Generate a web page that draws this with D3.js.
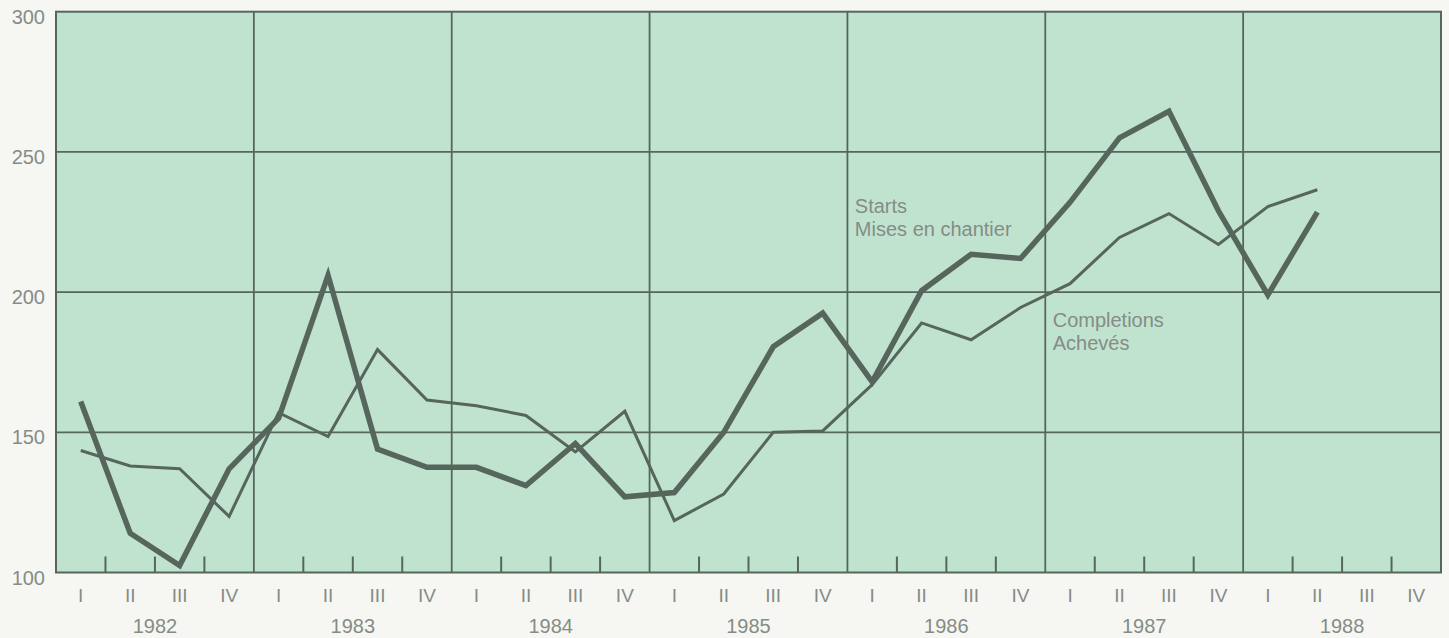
<!DOCTYPE html>
<html>
<head>
<meta charset="utf-8">
<script src="https://cdn.jsdelivr.net/npm/d3@7"></script>
<style>
  html, body { margin: 0; padding: 0; background: #f6f7f3; }
  svg { display: block; }
  text { font-family: "Liberation Sans", Arial, Helvetica, sans-serif; fill: #858c86; }
</style>
</head>
<body>
<svg id="chart" width="1449" height="638"></svg>
<script>
// ---- data ----
const years = ["1982", "1983", "1984", "1985", "1986", "1987", "1988"];
const quarterLabels = ["I", "II", "III", "IV"];
const yTicks = [100, 150, 200, 250, 300];
// Housing starts (thick line), thousands of units, quarterly 1982 Q1 – 1988 Q2
const starts = [161, 114, 102.5, 137,
                155, 206, 144, 137.5,
                137.5, 131, 146, 127,
                128.5, 150, 180.5, 192.5,
                168, 200.5, 213.5, 212,
                232, 255, 264.5, 229,
                199, 228.5];
// Completions (thin line)
const completions = [143.5, 138, 137, 120,
                     157, 148.5, 179.5, 161.5,
                     159.5, 156, 143, 157.5,
                     118.5, 128, 150, 150.5,
                     167, 189, 183, 194.5,
                     203, 219.5, 228, 217,
                     230.5, 236.5];
const seriesLabels = [
  { lines: ["Starts", "Mises en chantier"], q: 16.15, v: 228.2 },
  { lines: ["Completions", "Achevés"], q: 20.15, v: 187.7 }
];

(function () {
// ---- layout ----
const svg = d3.select("#chart");
const pLeft = 56, pRight = 1441, pTop = 11.7, pBottom = 572.5;
const nQ = years.length * 4;
const x = d3.scaleLinear().domain([0, nQ]).range([pLeft, pRight]);
const y = d3.scaleLinear().domain([100, 300]).range([pBottom, pTop]);
const ink = "#56665c";

// plot background
svg.append("rect")
  .attr("x", pLeft).attr("y", pTop)
  .attr("width", pRight - pLeft).attr("height", pBottom - pTop)
  .attr("fill", "#c0e3d0");

// horizontal gridlines
svg.append("g").selectAll("line")
  .data(yTicks.slice(1, -1))
  .join("line")
  .attr("x1", pLeft).attr("x2", pRight)
  .attr("y1", d => y(d)).attr("y2", d => y(d))
  .attr("stroke", ink).attr("stroke-width", 1.8);

// vertical year gridlines
svg.append("g").selectAll("line")
  .data(d3.range(1, years.length))
  .join("line")
  .attr("x1", d => x(d * 4)).attr("x2", d => x(d * 4))
  .attr("y1", pTop).attr("y2", pBottom)
  .attr("stroke", ink).attr("stroke-width", 1.8);

// quarter ticks
const tickIdx = d3.range(nQ).filter(i => i % 4 !== 0);
svg.append("g").selectAll("line")
  .data(tickIdx)
  .join("line")
  .attr("x1", d => x(d)).attr("x2", d => x(d))
  .attr("y1", pBottom).attr("y2", pBottom - 16)
  .attr("stroke", ink).attr("stroke-width", 2);

// frame
svg.append("rect")
  .attr("x", pLeft).attr("y", pTop)
  .attr("width", pRight - pLeft).attr("height", pBottom - pTop)
  .attr("fill", "none").attr("stroke", ink).attr("stroke-width", 2);

// y labels
svg.append("g").selectAll("text")
  .data(yTicks)
  .join("text")
  .attr("x", 45).attr("y", d => y(d) + 12)
  .attr("text-anchor", "end")
  .attr("font-size", 20)
  .text(d => d);

// quarter labels
svg.append("g").selectAll("text")
  .data(d3.range(nQ))
  .join("text")
  .attr("x", d => x(d + 0.5)).attr("y", 601.5)
  .attr("text-anchor", "middle")
  .attr("font-size", 19)
  .text(d => quarterLabels[d % 4]);

// year labels
svg.append("g").selectAll("text")
  .data(years)
  .join("text")
  .attr("x", (d, i) => x(i * 4 + 2)).attr("y", 633)
  .attr("text-anchor", "middle")
  .attr("font-size", 20)
  .text(d => d);

// lines
const line = d3.line().x((d, i) => x(i + 0.5)).y(d => y(d));
svg.append("path")
  .datum(completions)
  .attr("d", line)
  .attr("fill", "none").attr("stroke", ink)
  .attr("stroke-width", 3).attr("stroke-linejoin", "miter");
svg.append("path")
  .datum(starts)
  .attr("d", line)
  .attr("fill", "none").attr("stroke", ink)
  .attr("stroke-width", 5.5).attr("stroke-linejoin", "miter");

// series labels
seriesLabels.forEach(s => {
  const t = svg.append("text")
    .attr("x", x(s.q)).attr("y", y(s.v))
    .attr("font-size", 20);
  s.lines.forEach((l, i) => {
    t.append("tspan").attr("x", x(s.q)).attr("dy", i === 0 ? 0 : 23).text(l);
  });
});
})();
</script>
</body>
</html>
